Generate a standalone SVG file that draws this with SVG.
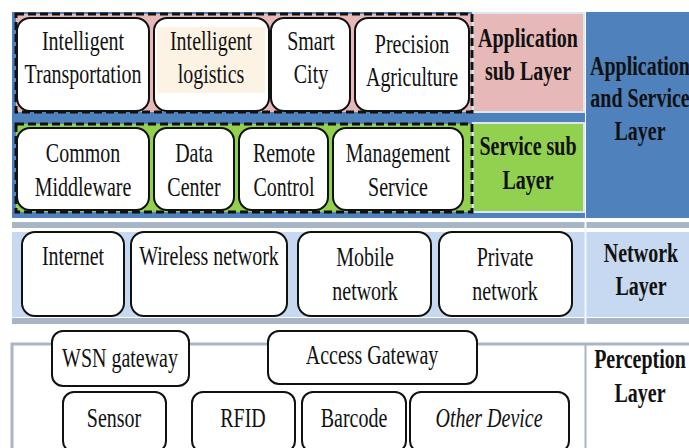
<svg xmlns="http://www.w3.org/2000/svg" width="689" height="448" viewBox="0 0 689 448">
<style>
.node{fill:#fff;stroke:#111;stroke-width:2}
.t{font-family:"Liberation Serif","Times New Roman",Times,serif;font-size:27px;fill:#111;text-anchor:middle}
.b{font-weight:bold}
.i{font-style:italic}
.dash{stroke:#111;stroke-width:3;stroke-dasharray:8 4}
</style>
<rect width="689" height="448" fill="#fff"/>
<g id="app-service-layer">
<rect x="12" y="12" width="573" height="206" fill="#4f81bd"/>
<rect x="586" y="12" width="103" height="206" fill="#4f81bd"/>
<rect x="473" y="13" width="111" height="99" fill="#e6b9b8" stroke="#dce6f2" stroke-width="2"/>
<rect x="473" y="123" width="111" height="89" fill="#92d050" stroke="#dce6f2" stroke-width="2"/>
<rect class="dash" x="16" y="14" width="456" height="98" fill="#e6b9b8"/>
<rect class="dash" x="16" y="124" width="456" height="88" fill="#92d050"/>
<text class="t b" transform="translate(528 47) scale(0.74 1)">Application</text>
<text class="t b" transform="translate(528 80) scale(0.74 1)">sub Layer</text>
<text class="t b" transform="translate(528 155) scale(0.74 1)">Service sub</text>
<text class="t b" transform="translate(528 189) scale(0.74 1)">Layer</text>
<text class="t b" transform="translate(640 75) scale(0.74 1)">Application</text>
<text class="t b" transform="translate(640 107) scale(0.74 1)">and Service</text>
<text class="t b" transform="translate(640 140) scale(0.74 1)">Layer</text>
</g>
<g id="intelligent-transportation">
<rect class="node" x="17" y="18" width="132" height="93" rx="13"/>
<text class="t" transform="translate(83 50) scale(0.74 1)">Intelligent</text>
<text class="t" transform="translate(83 83) scale(0.74 1)">Transportation</text>
</g>
<g id="intelligent-logistics">
<rect class="node" x="154" y="18" width="115" height="93" rx="13"/>
<rect x="157" y="27" width="108" height="66" fill="#fdf3e4"/>
<text class="t" transform="translate(211 50) scale(0.74 1)">Intelligent</text>
<text class="t" transform="translate(211 83) scale(0.74 1)">logistics</text>
</g>
<g id="smart-city">
<rect class="node" x="271" y="18" width="79" height="93" rx="13"/>
<text class="t" transform="translate(311 50) scale(0.74 1)">Smart</text>
<text class="t" transform="translate(311 83) scale(0.74 1)">City</text>
</g>
<g id="precision-agriculture">
<rect class="node" x="355" y="18" width="114" height="93" rx="13"/>
<text class="t" transform="translate(412 53) scale(0.74 1)">Precision</text>
<text class="t" transform="translate(412 86) scale(0.74 1)">Agriculture</text>
</g>
<g id="common-middleware">
<rect class="node" x="17" y="128" width="132" height="82" rx="13"/>
<text class="t" transform="translate(83 162) scale(0.74 1)">Common</text>
<text class="t" transform="translate(83 196) scale(0.74 1)">Middleware</text>
</g>
<g id="data-center">
<rect class="node" x="154" y="128" width="80" height="82" rx="13"/>
<text class="t" transform="translate(194 162) scale(0.74 1)">Data</text>
<text class="t" transform="translate(194 196) scale(0.74 1)">Center</text>
</g>
<g id="remote-control">
<rect class="node" x="239" y="128" width="89" height="82" rx="13"/>
<text class="t" transform="translate(284 162) scale(0.74 1)">Remote</text>
<text class="t" transform="translate(284 196) scale(0.74 1)">Control</text>
</g>
<g id="management-service">
<rect class="node" x="333" y="128" width="130" height="82" rx="13"/>
<text class="t" transform="translate(398 162) scale(0.74 1)">Management</text>
<text class="t" transform="translate(398 196) scale(0.74 1)">Service</text>
</g>
<g id="network-layer">
<rect x="12" y="222" width="677" height="6" fill="#a7b5c7"/>
<rect x="12" y="232" width="677" height="85" fill="#c6d9f0"/>
<rect x="12" y="318" width="677" height="6" fill="#a7b5c7"/>
<line x1="585.5" y1="222" x2="585.5" y2="324" stroke="#f4f7fb" stroke-width="2"/>
<text class="t b" transform="translate(641 262) scale(0.74 1)">Network</text>
<text class="t b" transform="translate(641 295) scale(0.74 1)">Layer</text>
</g>
<g id="internet">
<rect class="node" x="22" y="232" width="102" height="84" rx="13"/>
<text class="t" transform="translate(73 265) scale(0.74 1)">Internet</text>
</g>
<g id="wireless-network">
<rect class="node" x="131" y="232" width="156" height="84" rx="13"/>
<text class="t" transform="translate(209 265) scale(0.74 1)">Wireless network</text>
</g>
<g id="mobile-network">
<rect class="node" x="298" y="232" width="133" height="84" rx="13"/>
<text class="t" transform="translate(365 266) scale(0.74 1)">Mobile</text>
<text class="t" transform="translate(365 300) scale(0.74 1)">network</text>
</g>
<g id="private-network">
<rect class="node" x="439" y="232" width="133" height="84" rx="13"/>
<text class="t" transform="translate(505 266) scale(0.74 1)">Private</text>
<text class="t" transform="translate(505 300) scale(0.74 1)">network</text>
</g>
<g id="perception-layer">
<path d="M12 448 V344 H689" fill="none" stroke="#a7b5c7" stroke-width="3"/>
<line x1="585.5" y1="344" x2="585.5" y2="448" stroke="#a7b5c7" stroke-width="2"/>
<text class="t b" transform="translate(640 368) scale(0.74 1)">Perception</text>
<text class="t b" transform="translate(640 402) scale(0.74 1)">Layer</text>
</g>
<g id="wsn-gateway">
<rect class="node" x="52" y="331" width="137" height="55" rx="11"/>
<text class="t" transform="translate(120 367) scale(0.74 1)">WSN gateway</text>
</g>
<g id="access-gateway">
<rect class="node" x="268" y="331" width="209" height="53" rx="11"/>
<text class="t" transform="translate(372 364) scale(0.74 1)">Access Gateway</text>
</g>
<g id="sensor">
<rect class="node" x="63" y="392" width="103" height="60" rx="11"/>
<text class="t" transform="translate(114 427) scale(0.74 1)">Sensor</text>
</g>
<g id="rfid">
<rect class="node" x="192" y="392" width="103" height="60" rx="11"/>
<text class="t" transform="translate(243 427) scale(0.74 1)">RFID</text>
</g>
<g id="barcode">
<rect class="node" x="302" y="392" width="104" height="60" rx="11"/>
<text class="t" transform="translate(354 427) scale(0.74 1)">Barcode</text>
</g>
<g id="other-device">
<rect class="node" x="410" y="392" width="159" height="60" rx="11"/>
<text class="t i" transform="translate(489 427) scale(0.74 1)">Other Device</text>
</g>
<g id="connectors"></g>
</svg>
